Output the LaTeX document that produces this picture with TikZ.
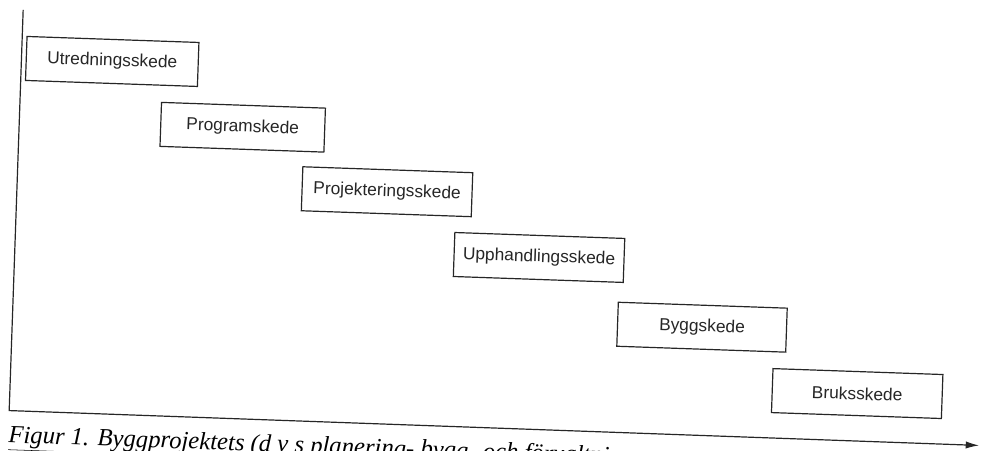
\documentclass[tikz,border=0pt]{standalone}
\usepackage{fontspec}
\setmainfont{Liberation Sans}
\newfontfamily\capfont{Liberation Serif}
\usepackage{tikz}
\usetikzlibrary{math,arrows.meta}
\colorlet{inkfg}{black!85}
\tikzset{%
  stage box/.style={draw=inkfg, text=inkfg, line width=0.9pt, minimum height=33pt,
    inner sep=0pt, font=\fontsize{13}{15}\selectfont, transform shape},
  axis lines/.style={draw=inkfg, line width=0.9pt},
  caption text/.style={anchor=base west, inner sep=0pt, transform shape,
    font=\capfont\itshape\fontsize{18.5}{22}\selectfont}
}

\begin{document}
\begin{tikzpicture}[x=0.75pt,y=0.75pt]
    \useasboundingbox (0,0) rectangle (981,-450);
    \clip (0,0) rectangle (981,-450);
    \tikzmath{
      \tilt=-2; % scan is slightly turned
      \axx=23.5;
      \axy=410;
    }
    \begin{scope}[rotate=\tilt]
      % Axes:
      \coordinate (axtop) at (\axx,-9);
      \coordinate (axorigin) at (\axx,-\axy);
      \coordinate (axend) at (994,-\axy-1);
      \draw[axis lines, -{Latex[length=10pt,width=5.5pt]}] (axtop) -- (axorigin) -- (axend);
      % Stages:
      \foreach \n/\x/\y/\w/\txt in {1/114.3/57.5/172/Utredningsskede,
          2/247.0/118.7/164/Programskede,
          3/393.5/178.1/170/Projekteringsskede,
          4/547.7/238.5/170/Upphandlingsskede,
          5/713.0/302.5/169/Byggskede,
          6/870.4/363.4/170/Bruksskede} {
        \node[stage box, minimum width=\w*0.75pt] (stage\n) at (\x,-\y) {\txt};
      }
      % Caption:
      \node[caption text] (caption) at (\axx,-442)
        {\underline{Figur 1}. Byggprojektets (d v s planering- bygg- och förvaltningsprocessens)};
    \end{scope}
\end{tikzpicture}
\end{document}
